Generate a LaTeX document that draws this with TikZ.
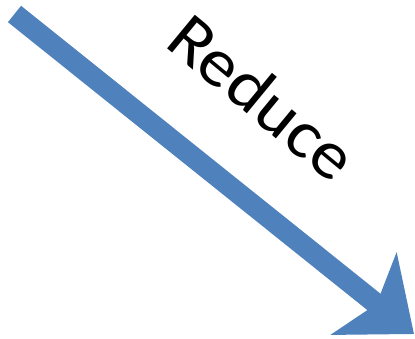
\documentclass[tikz,border=0pt]{standalone}
\usepackage{fontspec}
\setmainfont{Carlito}
\usetikzlibrary{arrows.meta}
\definecolor{arrowblue}{RGB}{79,129,189}
\tikzset{
  bigarrow/.style={draw=arrowblue, line width=21pt,
    -{Stealth[length=64pt, width=104pt, inset=16pt, fill=arrowblue]}},
  label/.style={font=\fontsize{68}{80}\selectfont, inner sep=0pt, anchor=base west,
    rotate=-39.5, xscale=1.08}
}
\begin{document}
\begin{tikzpicture}[x=1pt,y=1pt]
\useasboundingbox (0,0) rectangle (415,339);
   \coordinate (start) at (14.5,325);
   \coordinate (tip) at (414,5);

   \draw[bigarrow] (start) -- (tip);

   \node[label] at (163,294) (reduce) {Reduce};
\end{tikzpicture}
\end{document}
